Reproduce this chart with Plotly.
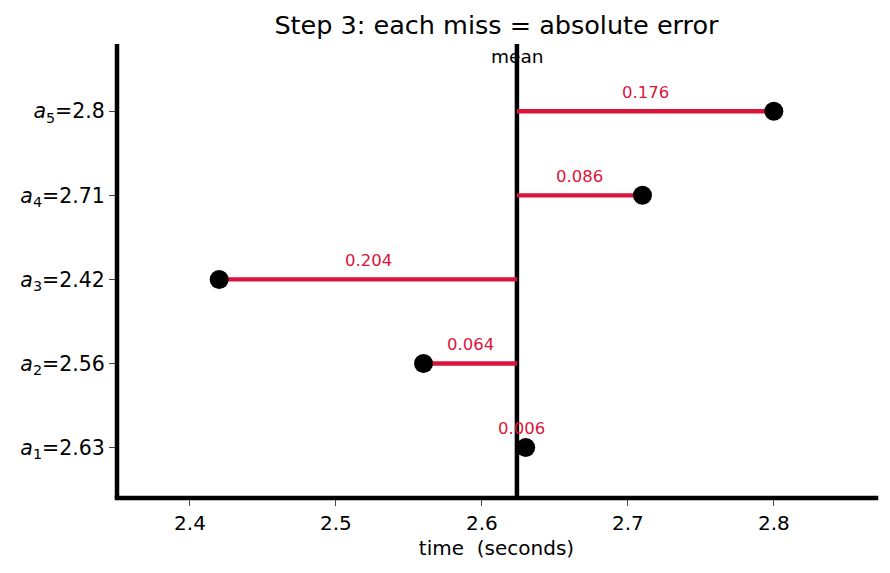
import plotly.graph_objects as go

subs = ["1", "2", "3", "4", "5"]
values = [2.63, 2.56, 2.42, 2.71, 2.80]
mean = sum(values) / len(values)
errors = [abs(v - mean) for v in values]
RED = "#DC143C"
FONT = "DejaVu Sans"

ypos = list(range(len(values)))
ticktext = [f"<i>a</i><sub>{s}</sub>={v:g}" for s, v in zip(subs, values)]
xticks = [2.4, 2.5, 2.6, 2.7, 2.8]

fig = go.Figure()
for i, v in enumerate(values):
    fig.add_trace(go.Scatter(x=[mean, v], y=[i, i], mode="lines",
                             line=dict(color=RED, width=4.3), showlegend=False, hoverinfo="skip"))
fig.add_trace(go.Scatter(x=values, y=ypos, mode="markers",
                         marker=dict(color="black", size=19), showlegend=False))

fig.add_shape(type="line", x0=mean, x1=mean, y0=0, y1=1, xref="x", yref="paper",
              line=dict(color="black", width=4.5), layer="below")
# spines (centered on the plot edges)
fig.add_shape(type="line", x0=0, x1=0, y0=0, y1=1, xref="paper", yref="paper",
              line=dict(color="black", width=4.5), layer="above")
fig.add_shape(type="line", x0=-0.003, x1=1.003, y0=0, y1=0, xref="paper", yref="paper",
              line=dict(color="black", width=4.5), layer="above")

for i, (v, e) in enumerate(zip(values, errors)):
    fig.add_annotation(x=(v + mean) / 2, y=i, text=f"{e:.3f}", showarrow=False,
                       yanchor="middle", yshift=19, font=dict(family=FONT, size=16.5, color=RED))

fig.add_annotation(x=mean, y=1, xref="x", yref="paper", text="mean", showarrow=False,
                   yanchor="middle", yshift=-12, font=dict(family=FONT, size=18.5, color="black"))

fig.update_layout(
    width=890, height=573,
    margin=dict(l=117, r=14, t=44, b=75),
    plot_bgcolor="white", paper_bgcolor="white",
    title=dict(text="Step 3: each miss = absolute error", x=0.5, xref="paper", xanchor="center",
               y=1 - 25 / 573, yref="container", yanchor="middle",
               font=dict(family=FONT, size=25.5, color="black")),
    font=dict(family=FONT, size=20, color="black"),
)
fig.update_xaxes(range=[2.35, 2.87], tickvals=xticks, ticktext=[f"{t:g}" for t in xticks],
                 showgrid=False, zeroline=False, showline=False,
                 ticks="outside", ticklen=7, tickwidth=1, tickcolor="#444",
                 title=dict(text="time\u00a0 (seconds)", font=dict(family=FONT, size=20), standoff=6),
                 tickfont=dict(family=FONT, size=20))
fig.update_yaxes(range=[-0.6, 4.8], tickvals=ypos, ticktext=ticktext,
                 showgrid=False, zeroline=False, showline=False,
                 ticks="outside", ticklen=7, tickwidth=1, tickcolor="#444",
                 tickfont=dict(family=FONT, size=20.5))

fig.write_html("out.html")
